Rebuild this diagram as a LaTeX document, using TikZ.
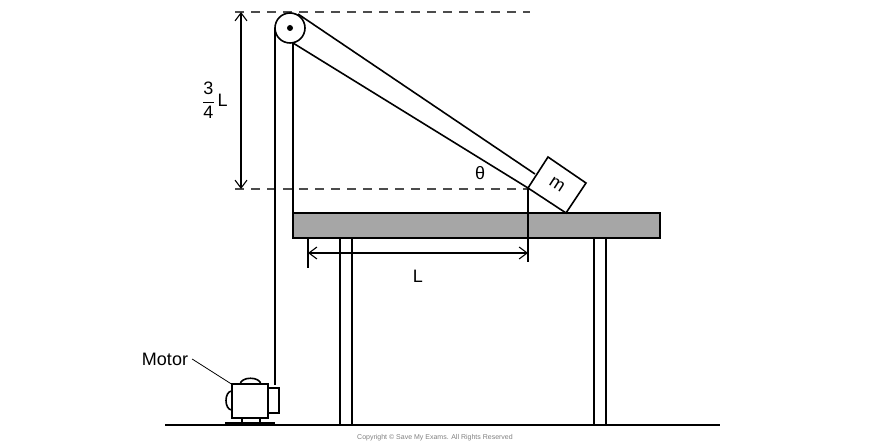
\documentclass[tikz,border=0pt]{standalone}
\usepackage{fontspec}
\setmainfont{Liberation Sans}
\usetikzlibrary{arrows.meta}
\begin{document}
\begin{tikzpicture}[x=1pt,y=-1pt,>={Straight Barb[length=8pt,width=12pt]},line width=1.6pt,font=\fontsize{18}{21}\selectfont]
\tikzset{guide/.style={line width=1.2pt,gray!60!black,dash pattern=on 9pt off 7pt},
  dim/.style={line width=1.1pt}}
\useasboundingbox (0,0) rectangle (870,446);
% guides
\draw[guide](235,12)--(530,12);
\draw[guide](235,189)--(528,189);
\draw[<->,dim](241,12)--(241,189);
\node at (215,100){$\displaystyle\frac{\hbox{3}}{\hbox{4}}$\,L};
% table
\draw[fill=gray!70](293,213)rectangle(660,238);
\draw(340,238)rectangle(352,425);
\draw(594,238)rectangle(606,425);
\draw(165,425)--(720,425);
% rod and pulley
\coordinate (rodA) at (528,188);
\coordinate (rodB) at (535,174);
\draw(rodA)--(293,43);
\draw(rodB)--(298,14);
\draw[fill=white](290,28)circle(15);
\fill(290,28)circle(3);
\draw(275,28)--(275,385);
\draw(293,43)--(293,213);
% mass
\draw[fill=white](528,188)--(548,157)--(586,183)--(566,213)--cycle;
\node[rotate=-33] at (557,185){m};
\node at (480,173){θ};
% L dimension
\draw[dim](528,189)--(528,262);
\draw[dim](308,238)--(308,268);
\draw[<->,dim](308,253)--(528,253);
\node at (418,276){L};
% motor
\draw[fill=white](240,385)..controls(240,376)and(261,376)..(261,385);
\draw[fill=white](232,391)..controls(224,391)and(224,410)..(232,410);
\draw[fill=white](232,384)rectangle(268,418);
\draw[fill=white](268,388)rectangle(279,413);
\draw(242,418)--(242,422)(260,418)--(260,422);
\fill(225,422)rectangle(275,425);
\node (motor) at (165,359){Motor};
\draw[line width=0.8pt](motor.east)--(233,385);
\node[font=\fontsize{7}{8}\selectfont,gray] at (435,438){Copyright © Save My Exams. All Rights Reserved};
\end{tikzpicture}
\end{document}
